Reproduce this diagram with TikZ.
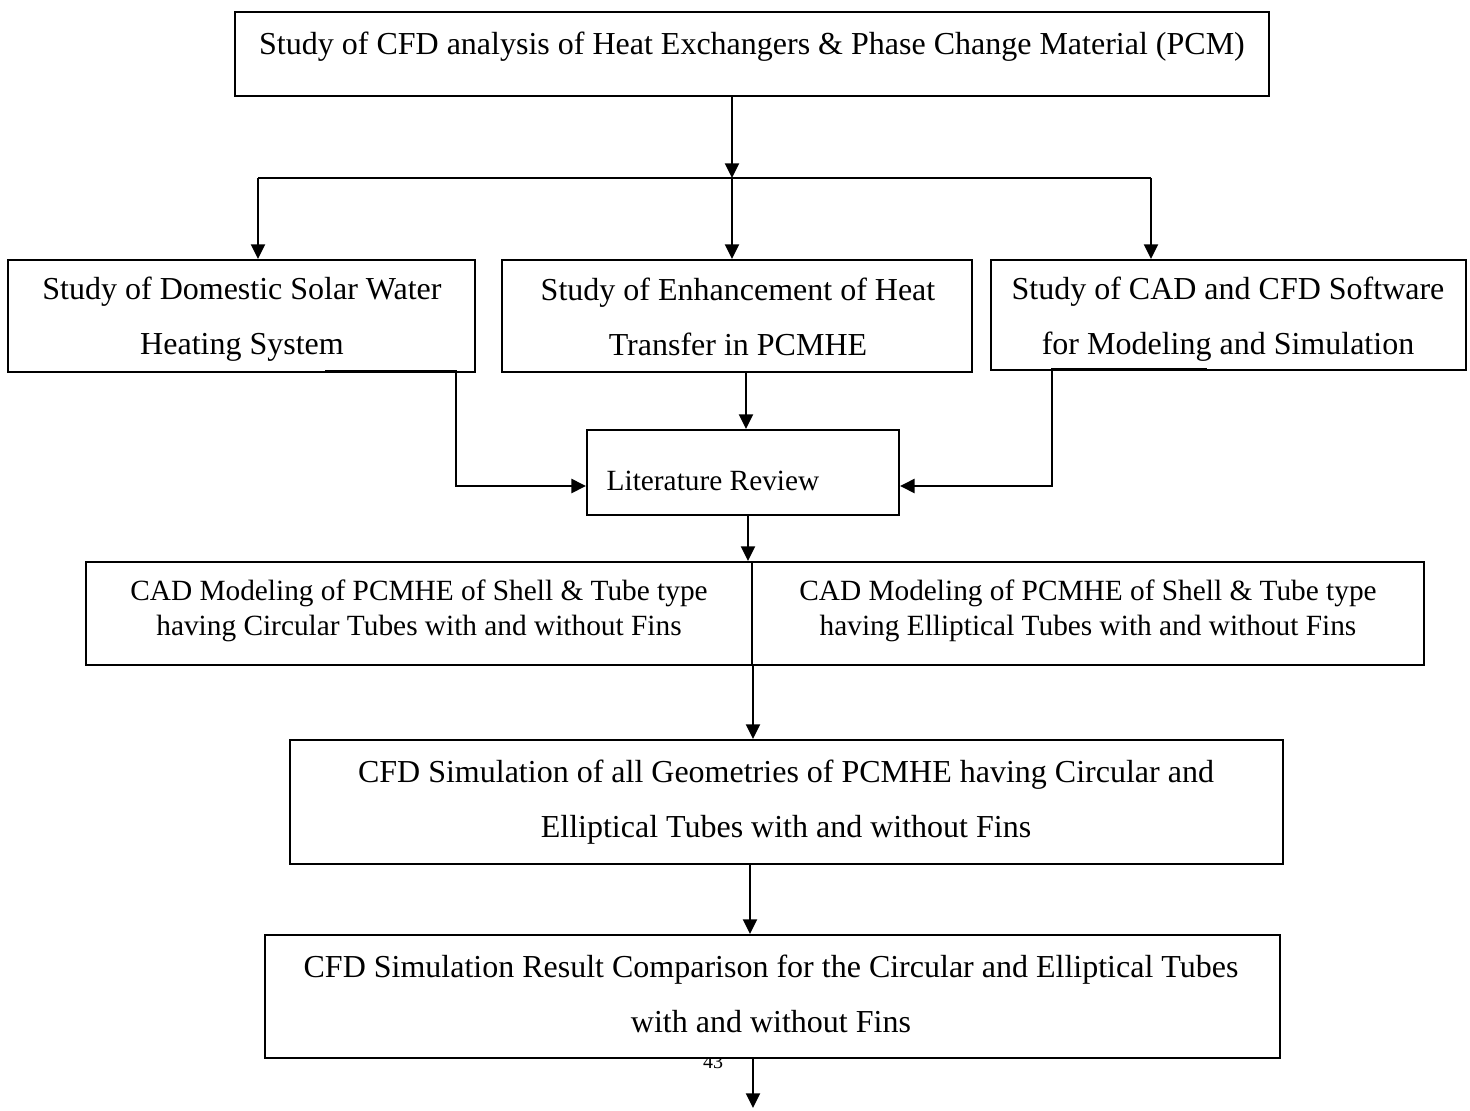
\documentclass[tikz,border=0pt]{standalone}
\usepackage{fontspec}
\setmainfont{Liberation Serif}
\usetikzlibrary{arrows.meta,fit,calc}
\begin{document}
\begin{tikzpicture}[x=0.75pt,y=-0.75pt,
  box/.style={draw,line width=1.5pt,fill=white,inner sep=0pt,rectangle},
  big/.style={font=\fontsize{24}{41}\selectfont,align=center,inner sep=0pt},
  small/.style={font=\fontsize{22}{26}\selectfont,align=center,inner sep=0pt},
  conn/.style={line width=1.5pt},
  arr/.style={conn,-{Triangle[length=11pt,width=10.5pt]}},
  arrthick/.style={line width=2pt,-{Triangle[length=11pt,width=10.5pt]}},
  pagenum/.style={font=\fontsize{15}{17}\selectfont,inner sep=0pt,anchor=base}
]
\useasboundingbox (0,0) rectangle (1470,1110);

% page number (partly hidden by the last box)
\node[pagenum] (pn) at (713,1068) {43};

% boxes
\node[box,fit={(235,12)(1269,96)}] (top) {};
\node[box,fit={(8,260)(475,372)}] (b1) {};
\node[box,fit={(502,260)(972,372)}] (b2) {};
\node[box,fit={(991,260)(1466,370)}] (b3) {};
\node[box,fit={(587,430)(899,515)}] (lit) {};
\node[box,fit={(86,562)(752,665)}] (cadL) {};
\node[box,fit={(752,562)(1424,665)}] (cadR) {};
\node[box,fit={(290,740)(1283,864)}] (sim) {};
\node[box,fit={(265,935)(1280,1058)}] (res) {};

% texts
\node[big] (t0) at (752,47) {Study of CFD analysis of Heat Exchangers \& Phase Change Material (PCM)};
\node[big] (t1) at (242,319) {Study of Domestic Solar Water\\Heating System};
\node[big] (t2) at (738,317) {Study of Enhancement of Heat\\Transfer in PCMHE};
\node[big] (t3) at (1228,319) {Study of CAD and CFD Software\\for Modeling and Simulation};
\node[small] (tl) at (713,481) {Literature Review};
\node[small] (tcl) at (419,611) {CAD Modeling of PCMHE of Shell \& Tube type\\having Circular Tubes with and without Fins};
\node[small] (tcr) at (1088,611) {CAD Modeling of PCMHE of Shell \& Tube type\\having Elliptical Tubes with and without Fins};
\node[big] (ts) at (786,802) {CFD Simulation of all Geometries of PCMHE having Circular and\\Elliptical Tubes with and without Fins};
\node[big] (tr) at (771,994) {CFD Simulation Result Comparison for the Circular and Elliptical Tubes\\with and without Fins};

% connectors
\coordinate (jL) at (258,178);
\coordinate (j) at (732,178);
\coordinate (jR) at (1151,178);
\draw[arr] (top.south -| j) -- (j);
\draw[conn] (jL) -- (jR);
\draw[arr] (jL) -- (jL |- b1.north);
\draw[arr] (j) -- (j |- b2.north);
\draw[arr] (jR) -- (jR |- b3.north);

\coordinate (k1a) at (325,371);
\coordinate (k1b) at (456,371);
\draw[arrthick] (k1a) -- (k1b) |- (lit.west |- 0,486);
\coordinate (k3a) at (1207,369);
\coordinate (k3b) at (1052,369);
\draw[arrthick] (k3a) -- (k3b) |- (lit.east |- 0,486);
\draw[arr] (b2.south -| 746,0) -- (lit.north -| 746,0);

\draw[arr] (lit.south -| 748,0) -- (cadL.north -| 748,0);
\draw[arr] (cadL.south east) -- (sim.north -| cadL.south east);
\draw[arr] (sim.south -| 750,0) -- (res.north -| 750,0);
\coordinate (end) at (753,1108);
\draw[arr] (res.south -| end) -- (end);
\end{tikzpicture}
\end{document}
